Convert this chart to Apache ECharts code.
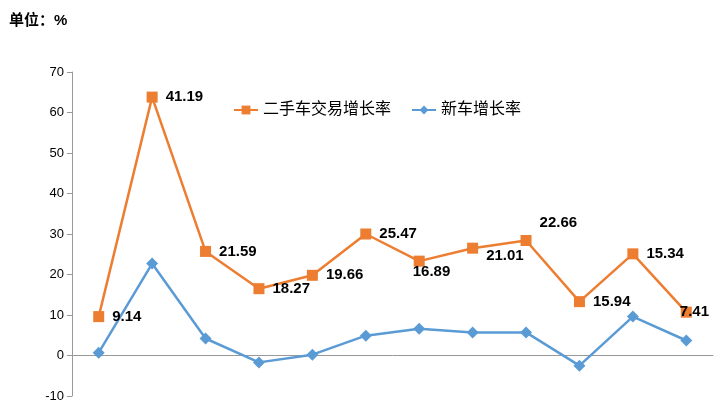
<!DOCTYPE html>
<html>
<head>
<meta charset="utf-8">
<script src="https://cdn.jsdelivr.net/npm/echarts@6/dist/echarts.min.js"></script>
<style>html,body{margin:0;padding:0;background:#fff}#chart{width:728px;height:409px}</style>
</head>
<body>
<div id="chart"></div>
<script>
var months = ['1月', '2月', '3月', '4月', '5月', '6月', '7月', '8月', '9月', '10月', '11月', '12月'];
var usedCar = [9.6, 63.8, 25.7, 16.5, 19.8, 30.0, 23.3, 26.5, 28.4, 13.3, 25.1, 10.7];
var newCar = [0.7, 22.7, 4.2, -1.7, 0.2, 4.9, 6.6, 5.7, 5.7, -2.5, 9.6, 3.7];
var usedLabels = ['9.14', '41.19', '21.59', '18.27', '19.66', '25.47', '16.89', '21.01', '22.66', '15.94', '15.34', '7.41'];
// label offsets relative to 'right' position
var labelOffsets = [[0, 0], [0, 0], [0, 0], [0, 0], [0, 0], [0, 0], [-20, 11], [0, 8], [0, -18], [0, 0], [0, 0], [-20, 0]];

var chart = echarts.init(document.getElementById('chart'));
var font = 'Liberation Sans, Noto Sans CJK SC, sans-serif';
chart.setOption({
    animation: false,
    textStyle: { fontFamily: font },
    title: {
        text: '单位：%',
        left: 4, top: 8,
        textStyle: { fontSize: 15, fontWeight: 'bold', color: '#000', fontFamily: font }
    },
    legend: {
        left: 228, top: 97,
        itemWidth: 24, itemHeight: 11, itemGap: 20,
        textStyle: { fontSize: 16, color: '#000' },
        data: ['二手车交易增长率', '新车增长率']
    },
    grid: { left: 72, right: 15, top: 72, bottom: 13, containLabel: false, outerBoundsMode: 'none' },
    xAxis: {
        type: 'category',
        data: months,
        axisLine: { lineStyle: { color: '#999' } },
        axisTick: { lineStyle: { color: '#999' }, length: 5 },
        axisLabel: { color: '#000', fontSize: 17, margin: 14 }
    },
    yAxis: {
        type: 'value',
        min: -10, max: 70, interval: 10,
        splitLine: { show: false },
        axisLine: { show: true, lineStyle: { color: '#999' } },
        axisTick: { show: true, lineStyle: { color: '#999' } },
        axisLabel: { color: '#000', fontSize: 13 }
    },
    series: [{
        name: '二手车交易增长率',
        type: 'line',
        data: usedCar.map(function (v, i) {
            return { value: v, label: { offset: labelOffsets[i] } };
        }),
        symbol: 'rect', symbolSize: 11,
        itemStyle: { color: '#ED7D31' },
        lineStyle: { color: '#ED7D31', width: 2.5 },
        label: {
            show: true, position: 'right', distance: 8,
            fontSize: 15, fontWeight: 'bold', color: '#000',
            formatter: function (p) { return usedLabels[p.dataIndex]; }
        }
    }, {
        name: '新车增长率',
        type: 'line',
        data: newCar,
        symbol: 'diamond', symbolSize: 12,
        itemStyle: { color: '#5B9BD5' },
        lineStyle: { color: '#5B9BD5', width: 2.5 }
    }]
});
</script>
</body>
</html>
